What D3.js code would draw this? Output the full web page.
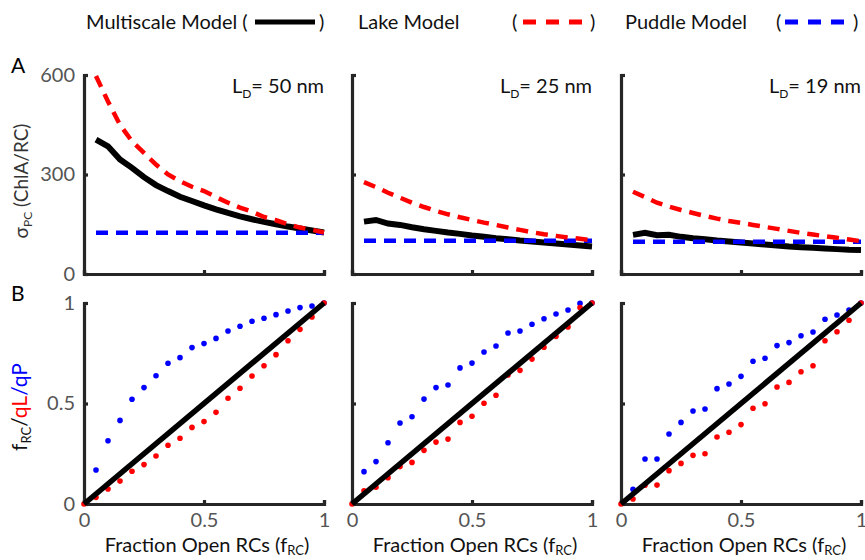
<!DOCTYPE html>
<html>
<head>
<meta charset="utf-8">
<script src="https://cdn.jsdelivr.net/npm/d3@7"></script>
<style>
  body { margin: 0; background: #fff; }
  text { font-family: Lato, "Open Sans", sans-serif; }
  .axis path, .axis line { stroke: #262626; stroke-width: 3.2; }
  .axis text { fill: #555; font-size: 20px; font-family: Lato, "Open Sans", sans-serif; }
</style>
</head>
<body>
<div id="chart"></div>
<script>
// fraction of open reaction centers
var fRC = [0.05, 0.10, 0.15, 0.20, 0.25, 0.30, 0.35, 0.40, 0.45, 0.50,
           0.55, 0.60, 0.65, 0.70, 0.75, 0.80, 0.85, 0.90, 0.95, 1.00];
var fRC0 = [0].concat(fRC);

// panel A: sigma PC (ChlA/RC)
var multi50 = [405, 385, 345, 320, 292, 268, 250, 233, 220, 207, 195, 184, 174, 165, 157, 150, 143, 137, 131, 125];
var lake50  = [597, 520, 450, 400, 365, 330, 300, 280, 263, 250, 232, 215, 200, 188, 172, 162, 150, 140, 133, 125];
var puddle50 = [124, 124, 124, 124, 124, 124, 124, 124, 124, 124, 124, 124, 124, 124, 124, 124, 124, 124, 124, 124];

var multi25 = [158, 163, 152, 148, 141, 135, 130, 125, 121, 116, 112, 108, 105, 101, 98, 95, 92, 89, 86, 83];
var lake25  = [277, 262, 245, 230, 215, 202, 190, 180, 171, 163, 155, 148, 140, 133, 126, 120, 115, 110, 106, 102];
var puddle25 = [100, 100, 100, 100, 100, 100, 100, 100, 100, 100, 100, 100, 100, 100, 100, 100, 100, 100, 100, 100];

var multi19 = [118, 124, 117, 118, 112, 108, 105, 101, 98, 95, 92, 89, 86, 83, 81, 79, 77, 75, 73, 72];
var lake19  = [248, 232, 215, 203, 193, 184, 175, 167, 160, 154, 148, 142, 136, 130, 124, 119, 114, 109, 104, 99];
var puddle19 = [97, 97, 97, 97, 97, 97, 97, 97, 97, 97, 97, 97, 97, 97, 97, 97, 97, 97, 97, 97];

// panel B: qL (from 0) and qP (from 0.05)
var qL50 = [0, 0.033, 0.075, 0.114, 0.163, 0.196, 0.239, 0.292, 0.327, 0.381, 0.410, 0.456, 0.526, 0.576, 0.637, 0.688, 0.743, 0.812, 0.869, 0.930, 1.0];
var qP50 = [0.169, 0.315, 0.416, 0.521, 0.579, 0.638, 0.700, 0.728, 0.778, 0.798, 0.824, 0.861, 0.884, 0.909, 0.924, 0.942, 0.960, 0.977, 0.985, 1.0];
var qL25 = [0, 0.066, 0.083, 0.131, 0.186, 0.207, 0.267, 0.308, 0.323, 0.406, 0.436, 0.501, 0.541, 0.642, 0.665, 0.721, 0.780, 0.834, 0.881, 0.977, 1.0];
var qP25 = [0.161, 0.211, 0.305, 0.403, 0.434, 0.522, 0.579, 0.592, 0.677, 0.701, 0.756, 0.786, 0.851, 0.861, 0.894, 0.922, 0.945, 0.965, 0.998, 1.0];
var qL19 = [0, 0.025, 0.093, 0.094, 0.166, 0.202, 0.242, 0.250, 0.333, 0.357, 0.395, 0.476, 0.499, 0.582, 0.605, 0.658, 0.688, 0.812, 0.857, 0.914, 1.0];
var qP19 = [0.073, 0.224, 0.224, 0.348, 0.406, 0.463, 0.473, 0.574, 0.597, 0.635, 0.710, 0.725, 0.788, 0.803, 0.837, 0.856, 0.919, 0.940, 0.965, 1.0];

var diag = [0, 1];
var ldLabels = ["50", "25", "19"];
var xTicks = [0, 0.5, 1];
var yTicksA = [0, 300, 600];
var yTicksB = [0, 0.5, 1];

var panelsA = [
  { multi: multi50, lake: lake50, puddle: puddle50 },
  { multi: multi25, lake: lake25, puddle: puddle25 },
  { multi: multi19, lake: lake19, puddle: puddle19 }
];
var panelsB = [
  { qL: qL50, qP: qP50 },
  { qL: qL25, qP: qP25 },
  { qL: qL19, qP: qP19 }
];

var svgWidth = 865, svgHeight = 560;
var lefts = [84, 352, 621];
var pw = 240;
var topA = 75, botA = 274;
var topB = 303, botB = 504;

var svg = d3.select("#chart").append("svg")
  .attr("width", svgWidth)
  .attr("height", svgHeight);

var red = "#ff0000", blue = "#0000ff";
var fmt = function(d) { return d === 0.5 ? "0.5" : d3.format("d")(d); };

// legend row
var leg = svg.append("g").style("font-size", "20px").style("fill", "#111");
leg.append("text").attr("x", 86).attr("y", 29).text("Multiscale Model (");
leg.append("line").attr("x1", 255).attr("x2", 315).attr("y1", 22).attr("y2", 22)
  .attr("stroke", "#000").attr("stroke-width", 5);
leg.append("text").attr("x", 319).attr("y", 29).text(")");
leg.append("text").attr("x", 358).attr("y", 29).text("Lake Model");
leg.append("text").attr("x", 512).attr("y", 29).text("(");
leg.append("line").attr("x1", 523).attr("x2", 589).attr("y1", 22).attr("y2", 22)
  .attr("stroke", red).attr("stroke-width", 5).attr("stroke-dasharray", "13,10");
leg.append("text").attr("x", 590).attr("y", 29).text(")");
leg.append("text").attr("x", 625).attr("y", 29).text("Puddle Model");
leg.append("text").attr("x", 776).attr("y", 29).text("(");
leg.append("line").attr("x1", 785).attr("x2", 852).attr("y1", 22).attr("y2", 22)
  .attr("stroke", blue).attr("stroke-width", 5).attr("stroke-dasharray", "13,10");
leg.append("text").attr("x", 853).attr("y", 29).text(")");

// panel letters
svg.append("text").attr("x", 11).attr("y", 73).style("font-size", "21px").text("A");
svg.append("text").attr("x", 11).attr("y", 301).style("font-size", "21px").text("B");

// y labels
var yla = svg.append("text")
  .attr("transform", "translate(28,181) rotate(-90)")
  .attr("text-anchor", "middle")
  .style("font-size", "19px").style("fill", "#333");
yla.append("tspan").text("σ");
yla.append("tspan").attr("dy", 4).style("font-size", "12px").text("PC");
yla.append("tspan").attr("dy", -4).text(" (ChlA/RC)");

var ylb = svg.append("text")
  .attr("transform", "translate(27,407) rotate(-90)")
  .attr("text-anchor", "middle")
  .style("font-size", "21px");
ylb.append("tspan").style("fill", "#111").text("f");
ylb.append("tspan").attr("dy", 4).style("font-size", "13px").style("fill", "#111").text("RC");
ylb.append("tspan").attr("dy", -4).style("fill", "#111").text("/");
ylb.append("tspan").style("fill", red).text("qL");
ylb.append("tspan").style("fill", blue).text("/qP");

panelsA.forEach(function(p, i) {
  var x = d3.scaleLinear().domain([0, 1]).range([lefts[i], lefts[i] + pw]);
  var y = d3.scaleLinear().domain([0, 600]).range([botA, topA]);
  var g = svg.append("g");

  g.append("g").attr("class", "axis")
    .attr("transform", `translate(0, ${botA})`)
    .call(d3.axisBottom(x).tickValues(xTicks).tickSizeInner(-4).tickSizeOuter(-4).tickFormat(""));
  g.append("g").attr("class", "axis")
    .attr("transform", `translate(${lefts[i]}, 0)`)
    .call(d3.axisLeft(y).tickValues(yTicksA).tickSizeInner(-4).tickSizeOuter(-4).tickPadding(9)
      .tickFormat(i === 0 ? d3.format("d") : ""));

  var line = d3.line().x(function(d, k) { return x(fRC[k]); }).y(function(d) { return y(d); });

  g.append("path").attr("d", line(p.multi))
    .attr("fill", "none").attr("stroke", "#000").attr("stroke-width", 6);
  g.append("path").attr("d", line(p.puddle))
    .attr("fill", "none").attr("stroke", blue).attr("stroke-width", 4.5).attr("stroke-dasharray", "12,8");
  g.append("path").attr("d", line(p.lake))
    .attr("fill", "none").attr("stroke", red).attr("stroke-width", 4.5).attr("stroke-dasharray", "12,8");

  var ld = g.append("text").attr("x", lefts[i] + pw).attr("y", 93)
    .attr("text-anchor", "end").style("font-size", "20px").style("fill", "#111");
  ld.append("tspan").text("L");
  ld.append("tspan").attr("dy", 5).style("font-size", "12px").text("D");
  ld.append("tspan").attr("dy", -5).text("= " + ldLabels[i] + " nm");
});

panelsB.forEach(function(p, i) {
  var x = d3.scaleLinear().domain([0, 1]).range([lefts[i], lefts[i] + pw]);
  var y = d3.scaleLinear().domain([0, 1]).range([botB, topB]);
  var g = svg.append("g");

  g.append("g").attr("class", "axis")
    .attr("transform", `translate(0, ${botB})`)
    .call(d3.axisBottom(x).tickValues(xTicks).tickSizeInner(-4).tickSizeOuter(-4).tickPadding(9)
      .tickFormat(fmt));
  g.append("g").attr("class", "axis")
    .attr("transform", `translate(${lefts[i]}, 0)`)
    .call(d3.axisLeft(y).tickValues(yTicksB).tickSizeInner(-4).tickSizeOuter(-4).tickPadding(9)
      .tickFormat(i === 0 ? fmt : ""));

  g.selectAll(".qp").data(p.qP).enter().append("circle")
    .attr("cx", function(d, k) { return x(fRC[k]); })
    .attr("cy", function(d) { return y(d); })
    .attr("r", 2.8).attr("fill", blue);
  g.selectAll(".ql").data(p.qL).enter().append("circle")
    .attr("cx", function(d, k) { return x(fRC0[k]); })
    .attr("cy", function(d) { return y(d); })
    .attr("r", 2.8).attr("fill", red);

  g.append("path").attr("d", d3.line().x(function(d) { return x(d); }).y(function(d) { return y(d); })(diag))
    .attr("fill", "none").attr("stroke", "#000").attr("stroke-width", 5.5);

  g.append("text").attr("x", lefts[i] + pw / 2 + 3).attr("y", 552)
    .attr("text-anchor", "middle").style("font-size", "20px").style("fill", "#111")
    .call(function(t) {
      t.append("tspan").text("Fraction Open RCs (f");
      t.append("tspan").attr("dy", 3).style("font-size", "13px").text("RC");
      t.append("tspan").attr("dy", -3).text(")");
    });
});
</script>
</body>
</html>
